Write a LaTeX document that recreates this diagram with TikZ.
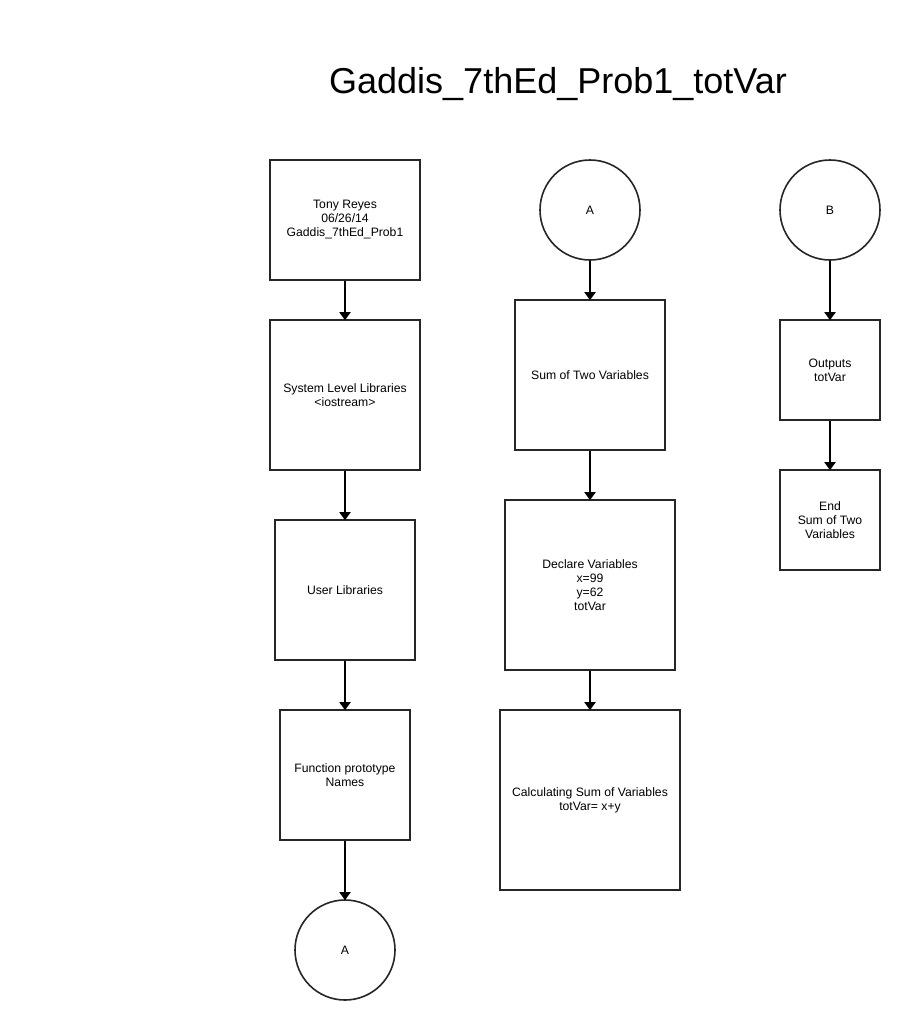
\documentclass[tikz,border=0pt]{standalone}
\usepackage{fontspec}
\setmainfont{Liberation Sans}
\usetikzlibrary{arrows.meta}
\tikzset{
  box/.style={draw=black!85, line width=1.6pt, align=center, font=\fontsize{12.2}{14}\selectfont, inner sep=0pt},
  conn/.style={draw=black!85, line width=1.6pt, align=center, circle, font=\fontsize{12.2}{14}\selectfont, inner sep=0pt, minimum size=100pt},
  arr/.style={line width=1.8pt, -{Triangle[length=8pt,width=11pt]}, shorten >=-1pt}
}
\begin{document}
\begin{tikzpicture}[x=1pt,y=-1pt]
\useasboundingbox[fill=white] (0,0) rectangle (920,1020);
\node[font=\fontsize{36}{40}\selectfont] (title) at (558,84) {Gaddis\_7thEd\_Prob1\_totVar};
% column 1
\node[box, minimum width=150pt, minimum height=120pt] (b1) at (345,220) {Tony Reyes\\06/26/14\\Gaddis\_7thEd\_Prob1};
\node[box, minimum width=150pt, minimum height=150pt] (b2) at (345,395) {System Level Libraries\\<iostream>};
\node[box, minimum width=140pt, minimum height=140pt] (b3) at (345,590) {User Libraries};
\node[box, minimum width=130pt, minimum height=130pt] (b4) at (345,775) {Function prototype\\Names};
\node[conn] (a1) at (345,950) {A};
% column 2
\node[conn] (a2) at (590,210) {A};
\node[box, minimum width=150pt, minimum height=150pt] (c1) at (590,375) {Sum of Two Variables};
\node[box, minimum width=170pt, minimum height=170pt] (c2) at (590,585) {Declare Variables\\x=99\\y=62\\totVar};
\node[box, minimum width=180pt, minimum height=180pt] (c3) at (590,800) {Calculating Sum of Variables\\totVar= x+y};
% column 3
\node[conn] (bb) at (830,210) {B};
\node[box, minimum width=100pt, minimum height=100pt] (d1) at (830,370) {Outputs\\totVar};
\node[box, minimum width=100pt, minimum height=100pt] (d2) at (830,520) {End\\Sum of Two\\Variables};
% connectors
\draw[arr] (b1) -- (b2);
\draw[arr] (b2) -- (b3);
\draw[arr] (b3) -- (b4);
\draw[arr] (b4) -- (a1);
\draw[arr] (a2) -- (c1);
\draw[arr] (c1) -- (c2);
\draw[arr] (c2) -- (c3);
\draw[arr] (bb) -- (d1);
\draw[arr] (d1) -- (d2);
\end{tikzpicture}
\end{document}
